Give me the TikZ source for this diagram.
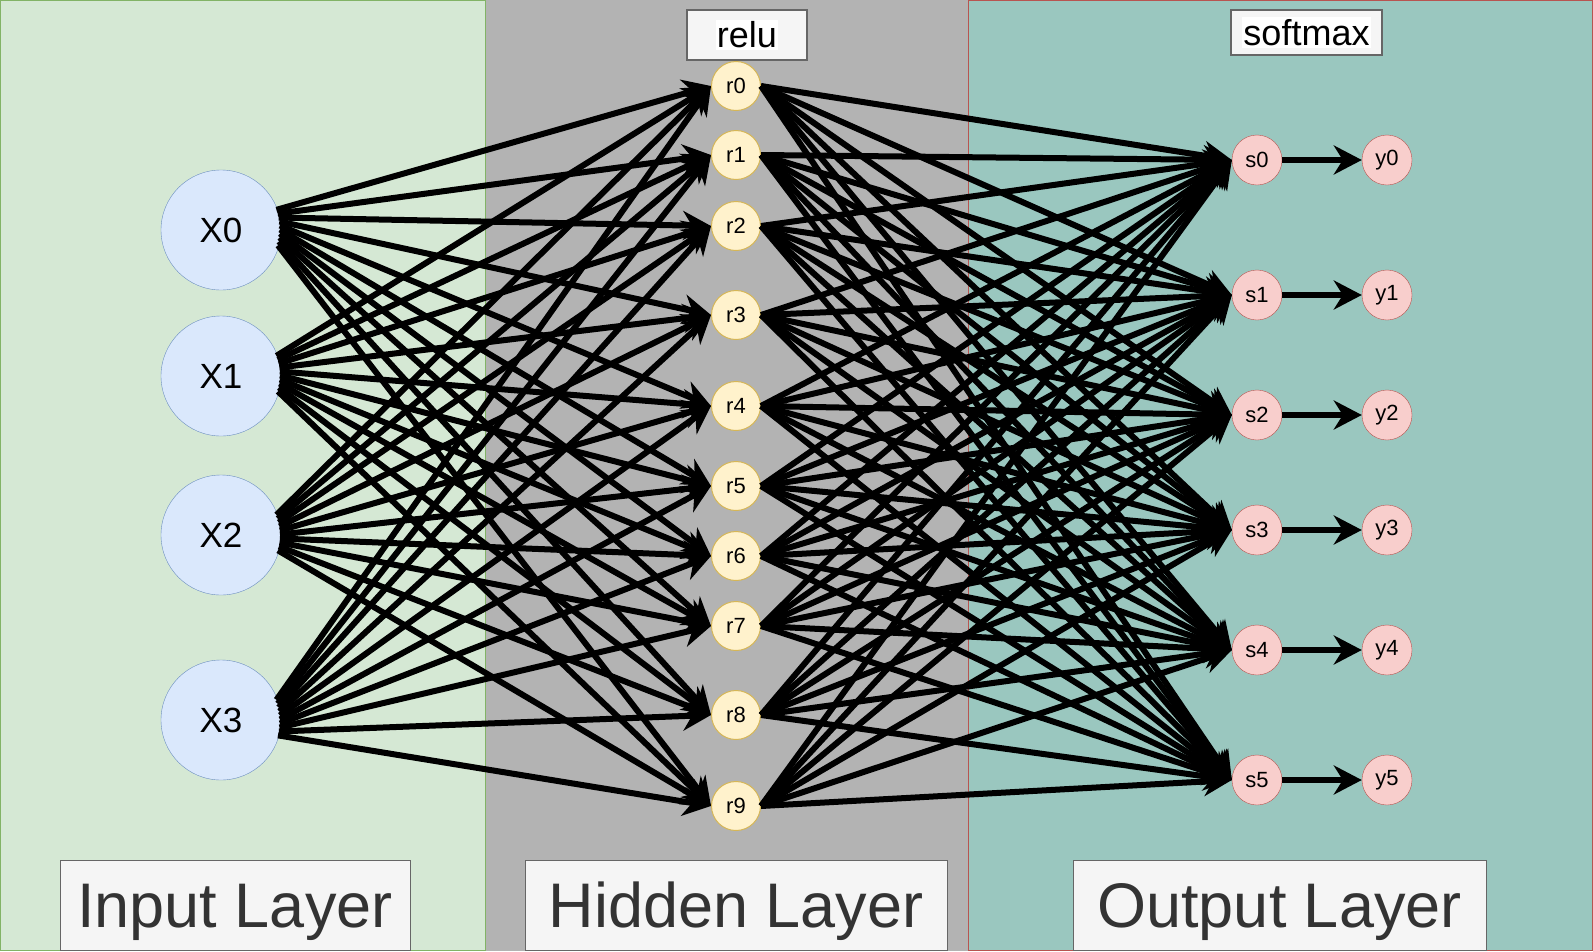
\documentclass[tikz,border=0pt]{standalone}
\usepackage{fontspec}
\setmainfont{Liberation Sans}
\usetikzlibrary{arrows.meta}
\definecolor{inbg}{HTML}{D5E8D4}
\definecolor{inedge}{HTML}{82B366}
\definecolor{hidbg}{HTML}{B3B3B3}
\definecolor{outbg}{HTML}{9AC7BF}
\definecolor{outedge}{HTML}{B85450}
\definecolor{xfill}{HTML}{DAE8FC}
\definecolor{xedge}{HTML}{6C8EBF}
\definecolor{rfill}{HTML}{FFF2CC}
\definecolor{redge}{HTML}{D6B656}
\definecolor{sfill}{HTML}{F8CECC}
\definecolor{boxfill}{HTML}{F5F5F5}
\definecolor{boxedge}{HTML}{666666}
\definecolor{boxtext}{HTML}{333333}
\begin{document}
\begin{tikzpicture}[x=1pt, y=-1pt,
    xnode/.style={circle, draw=xedge, fill=xfill, minimum size=120pt, inner sep=0pt, font=\fontsize{35}{40}\selectfont},
    rnode/.style={circle, draw=redge, line width=1pt, fill=rfill, minimum size=49pt, inner sep=0pt, font=\fontsize{22}{26}\selectfont},
    snode/.style={circle, draw=outedge, fill=sfill, minimum size=50pt, inner sep=0pt, font=\fontsize{22}{26}\selectfont},
    wire/.style={line width=6pt, -{Stealth[length=28pt, width=29pt, inset=9pt]}},
    layerbox/.style={draw=boxedge, line width=1pt, fill=boxfill, text=boxtext, font=\fontsize{63}{70}\selectfont, text height=45pt, text depth=0pt, minimum height=90pt},
    tagbox/.style={draw=boxedge, line width=1.5pt, fill=boxfill},
    tagtext/.style={fill=white, text=black, inner xsep=1pt, inner ysep=2pt, font=\fontsize{36}{40}\selectfont}]
    \useasboundingbox (0,0) rectangle (1593,951);
    \fill[hidbg] (485,0) rectangle (968,951);
    \filldraw[draw=inedge, fill=inbg, line width=1pt] (0.5,0.5) rectangle (485,950.5);
    \filldraw[draw=outedge, fill=outbg, line width=1pt] (968,0.5) rectangle (1592.5,950.5);
    \foreach \i/\y in {0/230,1/376,2/535,3/720}
        \node[xnode] (X\i) at (221,\y) {X\i};
    \foreach \j/\y in {0/86,1/155,2/226,3/315,4/406,5/486,6/556,7/626,8/715,9/806}
        \node[rnode] (r\j) at (736,\y) {r\j};
    \foreach \k/\y in {0/160,1/295,2/415,3/530,4/650,5/780} {
        \node[snode] (s\k) at (1257,\y) {s\k};
        \node[snode] (y\k) at (1387,\y) {y\k};
    }
    \foreach \i in {0,...,3}
        \foreach \j in {0,...,9}
            \draw[wire] ([shift={({20-3.9*\j}:59pt)}]X\i.center) -- (r\j.west);
    \foreach \j in {0,...,9}
        \foreach \k in {0,...,5}
            \draw[wire] (r\j.east) -- (s\k.west);
    \foreach \k in {0,...,5}
        \draw[wire] (s\k) -- (y\k);
    \node[tagbox, minimum width=120pt, minimum height=50pt] (relubox) at (747,35) {};
    \node[tagtext] (relu) at (relubox) {relu};
    \node[tagbox, minimum width=151pt, minimum height=45pt] (softbox) at (1306.5,32.5) {};
    \node[tagtext] (softmax) at (softbox) {softmax};
    \node[layerbox, minimum width=350pt] (inlayer) at (235,905) {Input Layer};
    \node[layerbox, minimum width=422pt] (hidlayer) at (736,905) {Hidden Layer};
    \node[layerbox, minimum width=413pt] (outlayer) at (1279.5,905) {Output Layer};
\end{tikzpicture}
\end{document}
